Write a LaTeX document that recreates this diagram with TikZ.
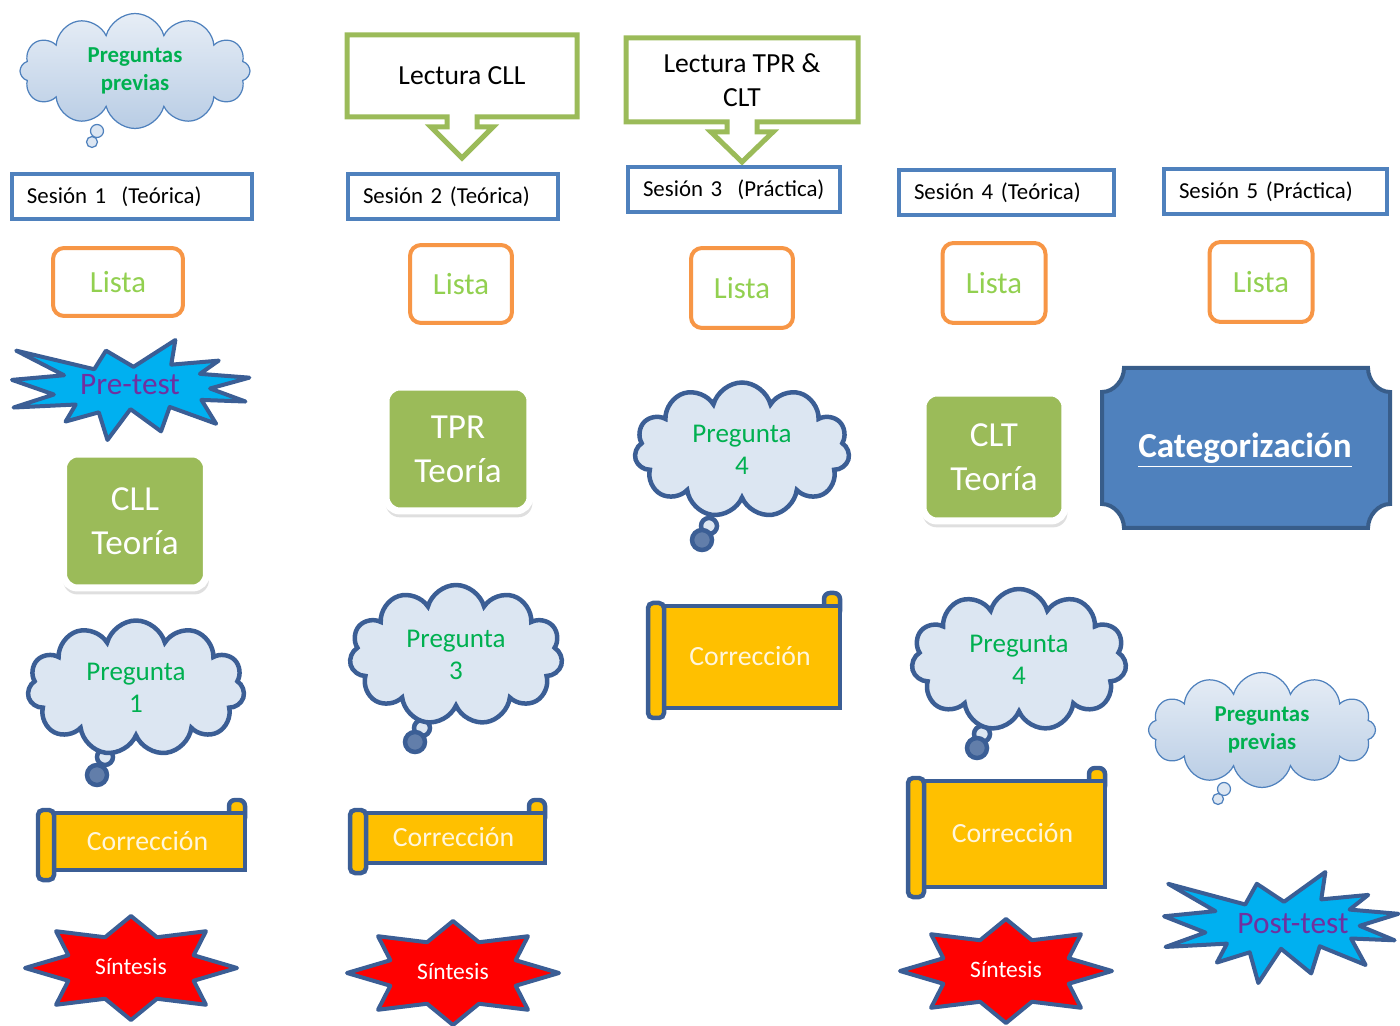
\documentclass[tikz,border=0pt]{standalone}
\usepackage{fontspec}
\setmainfont{Carlito}
\usetikzlibrary{shapes.symbols,shadows}

\definecolor{sesblue}{HTML}{4F81BD}
\definecolor{darkline}{HTML}{3B5E95}
\definecolor{listaorange}{HTML}{F79646}
\definecolor{listagreen}{HTML}{92D050}
\definecolor{pregreen}{HTML}{00B050}
\definecolor{teoriagreen}{HTML}{9BBB59}
\definecolor{cloudfill}{HTML}{DCE6F2}
\definecolor{scrollfill}{HTML}{FFC000}
\definecolor{boomfill}{HTML}{00B0F0}
\definecolor{boomtext}{HTML}{7030A0}
\definecolor{plaqueline}{HTML}{385D8A}
\definecolor{corrtext}{HTML}{FFF6DC}

\tikzset{
  sesion/.style={draw=sesblue, line width=0.08cm, anchor=west, inner xsep=0.3cm,
    minimum height=0.9cm, align=left, font=\fontsize{13}{15}\selectfont},
  lista/.style={draw=listaorange, fill=white, line width=0.08cm, rounded corners=0.22cm,
    text=listagreen, font=\fontsize{17.5}{20}\selectfont},
  teoria/.style={fill=teoriagreen, draw=white, line width=0.14cm, rounded corners=0.28cm,
    text=white, align=center, font=\fontsize{20}{25}\selectfont,
    drop shadow={shadow xshift=0.02cm, shadow yshift=-0.1cm, shadow scale=1.02, opacity=0.25}},
  pregunta/.style={cloud, cloud puffs=11, cloud ignores aspect, draw=darkline,
    line width=0.09cm, fill=cloudfill, text=pregreen, align=center,
    font=\fontsize{15.4}{18.5}\selectfont},
  previas/.style={cloud, cloud puffs=12, cloud ignores aspect, draw=sesblue,
    line width=0.7pt, top color=cloudfill!70, bottom color=sesblue!40, text=pregreen,
    align=center, font=\bfseries\fontsize{13}{16}\selectfont},
  tailbig/.style={draw=darkline, line width=0.09cm, fill=darkline!80},
  tailsmall/.style={draw=darkline, line width=0.09cm, fill=cloudfill},
  scrollline/.style={draw=darkline, line width=0.09cm, fill=scrollfill},
  corrlabel/.style={text=corrtext, font=\fontsize{15.8}{18}\selectfont},
  boomline/.style={draw=darkline, line width=0.08cm, fill=boomfill, line join=round},
  boomlabel/.style={text=boomtext, font=\fontsize{17.8}{20}\selectfont},
  starline/.style={draw=darkline, line width=0.08cm, fill=red, line join=round},
  starlabel/.style={text=white, font=\fontsize{13.4}{16}\selectfont},
  calloutline/.style={draw=teoriagreen, line width=0.1cm, fill=white, line join=miter},
  lectlabel/.style={align=center, font=\fontsize{15.7}{19}\selectfont}
}

% Corrección scroll: name, x1, y1, x2, y2
\newcommand{\correccion}[5]{
    \draw[scrollline, rounded corners=0.12cm] ({#4-16},#3) rectangle (#4,{#3+24});
    \draw[scrollline] ({#2+16},{#3+13}) rectangle (#4,{#5-10});
    \draw[scrollline, rounded corners=0.1cm] (#2,{#3+10}) rectangle ({#2+16},#5);
    \node[corrlabel] (#1) at ({(#2+#4)/2+6},{(#3+#5)/2+1}) {Corrección};
}

% explosion: name, x, y, w, h, text x, text y, text
\newcommand{\explosion}[8]{
    \draw[boomline, shift={(#2,#3)}, xscale=#4/216, yscale=#5/216]
      (108,58) -- (145.22,0) -- (141.55,53.25) -- (183.8,44.57) -- (167.02,73.15)
      -- (210.97,81.37) -- (176.07,104.75) -- (207.55,132.9) -- (168.37,129.42)
      -- (181.45,180.95) -- (140.2,144.57) -- (132.47,197.37) -- (105.32,149.35)
      -- (84.85,216) -- (77.15,156.27) -- (47.62,176.17) -- (56.67,139.37)
      -- (1.35,145.87) -- (37.22,117.75) -- (0,86.15) -- (46.27,76.17)
      -- (3.7,22.95) -- (73.12,63.2) -- (83.52,22.95) -- cycle;
    \node[boomlabel] (#1) at (#6,#7) {#8};
}

% Síntesis star: name, cx, cy
\newcommand{\sintesis}[3]{
    \draw[starline] ({#2+106},#3)
      \foreach \a [evaluate=\a as \r using {mod(\a,2)==0 ? 1 : 0.64}] in {1,...,15}
        { -- ({#2+\r*106*cos(\a*22.5)},{#3-\r*52*sin(\a*22.5)}) } -- cycle;
    \node[starlabel] (#1) at (#2,{#3-2}) {Síntesis};
}

% down arrow callout: name, x1, y1, x2, y2, tip y, text
\newcommand{\lectura}[7]{
    \draw[calloutline] (#2,#3) -- (#4,#3) -- (#4,#5) -- ({(#2+#4)/2+15},#5)
      -- ({(#2+#4)/2+15},{#5+10}) -- ({(#2+#4)/2+31},{#5+10}) -- ({(#2+#4)/2},#6)
      -- ({(#2+#4)/2-31},{#5+10}) -- ({(#2+#4)/2-15},{#5+10}) -- ({(#2+#4)/2-15},#5)
      -- (#2,#5) -- cycle;
    \node[lectlabel] (#1) at ({(#2+#4)/2},{(#3+#5)/2}) {#7};
}

\begin{document}
\begin{tikzpicture}[x=0.02cm, y=-0.02cm]
\useasboundingbox (0,0) rectangle (1400,1026);

% sesion 1
\draw[draw=sesblue, line width=0.7pt, fill=cloudfill] (97,131) circle[radius=0.13cm];
\draw[draw=sesblue, line width=0.7pt, fill=cloudfill] (92,142) circle[radius=0.11cm];
\node[previas, minimum width=4.6cm, minimum height=2.3cm] (prev1) at (135,71) {Preguntas\\previas};
\node[sesion, text width=4.2cm] (ses1) at (10,197) {Sesión 1\ \ (Teórica)};
\node[lista, minimum width=2.6cm, minimum height=1.36cm] (lista1) at (118,282) {Lista};
\explosion{pre}{12}{340}{243}{100}{130}{385}{Pre-test}
\node[teoria, minimum width=2.86cm, minimum height=2.68cm] (cll) at (135,521) {CLL\\Teoría};
\draw[tailsmall] (105,757) circle[radius=0.16cm];
\draw[tailbig] (97,775) circle[radius=0.2cm];
\node[pregunta, minimum width=4.34cm, minimum height=2.7cm] (preg1) at (136,688) {Pregunta\\1};
\correccion{corr1}{38}{800}{245}{880}
\sintesis{sint1}{131}{968}

% sesion 2
\lectura{lect1}{347}{35}{577}{117}{158}{Lectura CLL}
\node[sesion, text width=3.6cm] (ses2) at (346,197) {Sesión 2 (Teórica)};
\node[lista, minimum width=2.04cm, minimum height=1.56cm] (lista2) at (461,284) {Lista};
\node[teoria, minimum width=2.88cm, minimum height=2.48cm] (tpr) at (458,449) {TPR\\Teoría};
\draw[tailsmall] (422,728) circle[radius=0.16cm];
\draw[tailbig] (415,742) circle[radius=0.2cm];
\node[pregunta, minimum width=4.26cm, minimum height=2.8cm] (preg3) at (456,655) {Pregunta\\3};
\correccion{corr2}{350}{800}{545}{873}
\sintesis{sint2}{453}{973}

% sesion 3
\lectura{lect2}{626}{38}{858}{122}{162}{Lectura TPR \&\\CLT}
\node[sesion, text width=3.64cm] (ses3) at (626,190) {Sesión 3\ \ (Práctica)};
\node[lista, minimum width=2.04cm, minimum height=1.6cm] (lista3) at (742,288) {Lista};
\draw[tailsmall] (709,526) circle[radius=0.16cm];
\draw[tailbig] (702,540) circle[radius=0.2cm];
\node[pregunta, minimum width=4.3cm, minimum height=2.7cm] (preg4a) at (742,450) {Pregunta\\4};
\correccion{corr3}{648}{593}{840}{718}

% sesion 4
\node[sesion, text width=3.7cm] (ses4) at (897,193) {Sesión 4 (Teórica)};
\node[lista, minimum width=2.06cm, minimum height=1.6cm] (lista4) at (994,283) {Lista};
\node[teoria, minimum width=2.84cm, minimum height=2.56cm] (clt) at (994,457) {CLT\\Teoría};
\draw[tailsmall] (982,734) circle[radius=0.16cm];
\draw[tailbig] (977,748) circle[radius=0.2cm];
\node[pregunta, minimum width=4.3cm, minimum height=2.84cm] (preg4b) at (1019,660) {Pregunta\\4};
\correccion{corr4}{908}{768}{1105}{897}
\sintesis{sint3}{1006}{971}

% sesion 5
\node[sesion, text width=3.86cm] (ses5) at (1162,192) {Sesión 5 (Práctica)};
\node[lista, minimum width=2.06cm, minimum height=1.6cm] (lista5) at (1261,282) {Lista};
\draw[draw=plaqueline, line width=0.08cm, fill=sesblue]
  (1124,368) -- (1368,368) .. controls (1368,380) and (1378,392) .. (1390,392)
  -- (1390,504) .. controls (1378,504) and (1368,516) .. (1368,528)
  -- (1124,528) .. controls (1124,516) and (1114,504) .. (1102,504)
  -- (1102,392) .. controls (1114,392) and (1124,380) .. (1124,368) -- cycle;
\node[text=white, font=\bfseries\fontsize{20}{24}\selectfont] (cat) at (1245,450) {\underline{Categorización}};
\draw[draw=sesblue, line width=0.7pt, fill=cloudfill] (1224,789) circle[radius=0.13cm];
\draw[draw=sesblue, line width=0.7pt, fill=cloudfill] (1218,799) circle[radius=0.11cm];
\node[previas, minimum width=4.54cm, minimum height=2.3cm] (prev2) at (1262,730) {Preguntas\\previas};
\explosion{post}{1164}{872}{240}{111}{1293}{924}{Post-test}

\end{tikzpicture}
\end{document}
